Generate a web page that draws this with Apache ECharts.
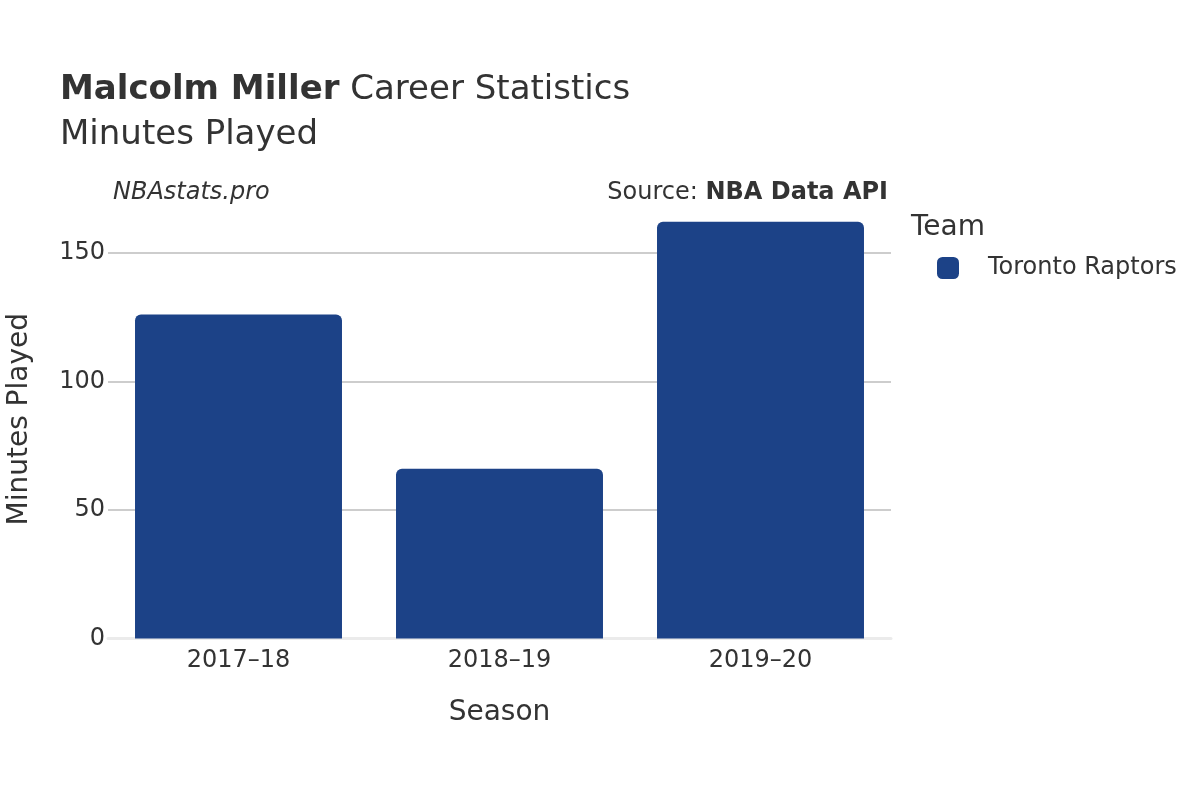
<!DOCTYPE html>
<html><head><meta charset="utf-8">
<script src="https://cdn.jsdelivr.net/npm/echarts@6/dist/echarts.min.js"></script>
<style>html,body{margin:0;padding:0;background:#fff}#c{width:1200px;height:800px}</style>
</head><body><div id="c"></div>
<script>
const seasons = ["2017–18", "2018–19", "2019–20"];
const minutesPlayed = [126, 66, 162];
const yTicks = [0, 50, 100, 150];
const teamName = "Toronto Raptors";

const chart = echarts.init(document.getElementById('c'), null, {renderer: 'canvas'});
const F = 'DejaVu Sans';
chart.setOption({
  animation: false,
  backgroundColor: '#fff',
  textStyle: {fontFamily: F},
  title: [
    {text: '{b|Malcolm Miller} Career Statistics', left: 55, top: 68,
     textStyle: {fontFamily: F, fontSize: 34, fontWeight: 'normal', color: '#333',
       rich: {b: {fontFamily: F, fontSize: 34, fontWeight: 'bold', color: '#333'}}}},
    {text: 'Minutes Played', left: 55, top: 113,
     textStyle: {fontFamily: F, fontSize: 34, fontWeight: 'normal', color: '#333'}},
    {text: 'NBAstats.pro', left: 108, top: 176,
     textStyle: {fontFamily: F, fontSize: 24, fontStyle: 'italic', fontWeight: 'normal', color: '#333'}},
    {text: 'Source: {b|NBA Data API}', right: 307, top: 176,
     textStyle: {fontFamily: F, fontSize: 24, fontWeight: 'normal', color: '#333',
       rich: {b: {fontFamily: F, fontSize: 24, fontWeight: 'bold', color: '#333'}}}},
    {text: 'Team', left: 906, top: 209,
     textStyle: {fontFamily: F, fontSize: 28, fontWeight: 'normal', color: '#333'}}
  ],
  legend: {
    left: 932, top: 251, orient: 'vertical',
    itemWidth: 22, itemHeight: 22, itemGap: 29,
    icon: 'roundRect',
    textStyle: {fontFamily: F, fontSize: 24, color: '#333', padding: [0, 0, 0, 24]},
    data: [teamName]
  },
  grid: {left: 108, right: 309, top: 200, bottom: 161.5, containLabel: false, outerBoundsMode: 'none'},
  xAxis: {
    type: 'category', data: seasons,
    name: 'Season', nameLocation: 'middle', nameGap: 60,
    nameTextStyle: {fontFamily: F, fontSize: 28, color: '#333'},
    axisLine: {show: true, lineStyle: {color: '#ebebeb', width: 3}},
    axisTick: {show: false},
    axisLabel: {fontFamily: F, fontSize: 24, color: '#333', margin: 10}
  },
  yAxis: {
    type: 'value', min: 0, max: 170.5, interval: 50,
    name: 'Minutes Played', nameLocation: 'middle', nameGap: 74,
    nameTextStyle: {fontFamily: F, fontSize: 28, color: '#333'},
    axisLine: {show: false}, axisTick: {show: false},
    axisLabel: {fontFamily: F, fontSize: 24, color: '#333', margin: 3, padding: [4, 0, 0, 0],
      formatter: v => yTicks.includes(v) ? String(v) : ''},
    splitLine: {showMaxLine: false, lineStyle: {color: '#bdbdbd', width: 1.5}}
  },
  series: [{
    name: teamName, type: 'bar', data: minutesPlayed,
    barWidth: '79.3%',
    itemStyle: {color: '#1c4287', borderRadius: [6, 6, 0, 0]}
  }]
});
</script></body></html>
